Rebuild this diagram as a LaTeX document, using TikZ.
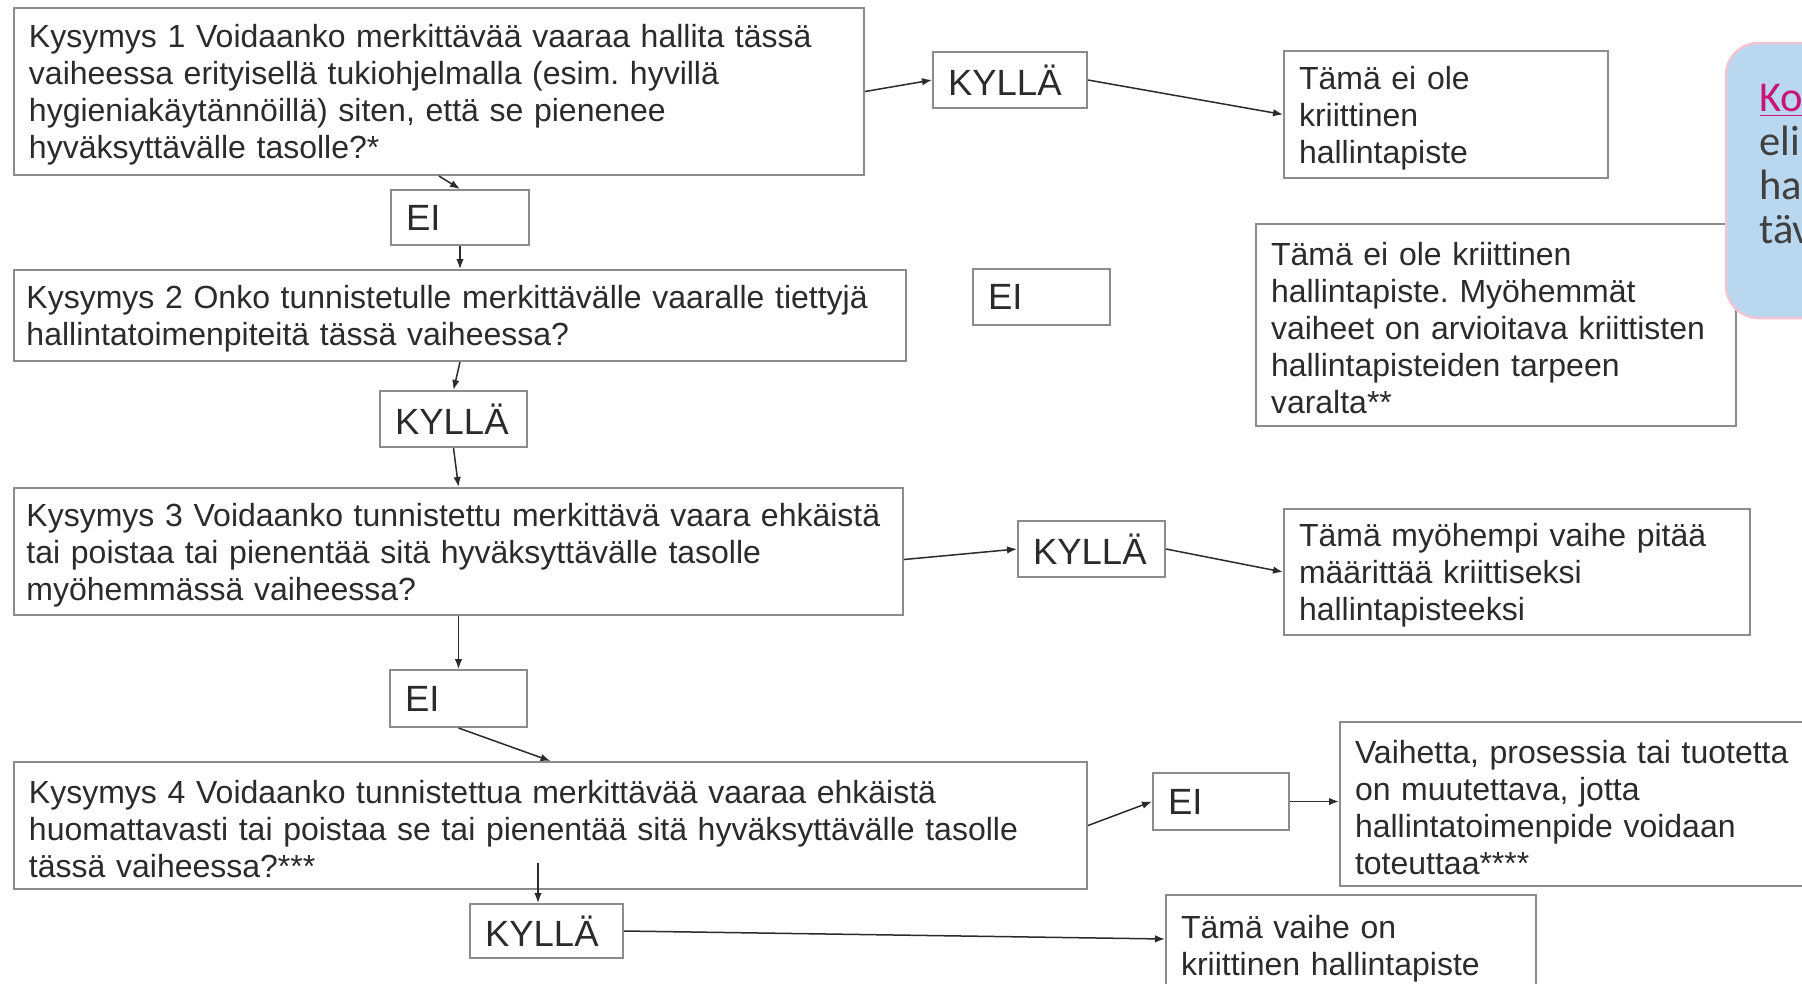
\documentclass[tikz,border=0pt]{standalone}
\usepackage{fontspec}
\setmainfont{Liberation Sans}
\newfontfamily\calloutfont{Carlito}
\usepackage{tikz}
\usetikzlibrary{arrows.meta,positioning,calc}
\definecolor{Frame}{HTML}{8C8C8C}
\definecolor{Ink}{HTML}{2B2B2B}
\definecolor{NoteFill}{HTML}{B9D7EF}
\definecolor{NoteEdge}{HTML}{F0C4D4}
\definecolor{NoteLink}{HTML}{C8147A}
\definecolor{NoteText}{HTML}{404040}
\newcommand{\boxfont}{\fontsize{12.8}{14.8}\selectfont\frenchspacing}
\newcommand{\ansfont}{\fontsize{14.6}{16}\selectfont}

\begin{document}
\begin{tikzpicture}[
  x=0.4pt,y=-0.4pt,
  framed/.style={draw=Frame,line width=0.8pt,fill=white,align=left,inner xsep=6pt,inner ysep=0pt,text=Ink},
  qbox/.style={framed,font=\boxfont,execute at begin node={\rule{0pt}{12pt}}},
  ans/.style={framed,font=\ansfont},
  note/.style={draw=NoteEdge,line width=1pt,fill=NoteFill,rounded corners=13pt},
  notetext/.style={align=left,inner sep=0pt,font=\calloutfont\fontsize{17}{17.5}\selectfont,text=NoteText},
  arrow/.style={-{Latex[length=4pt,width=3pt]},line width=0.6pt,draw=Ink}
]
\useasboundingbox (0,0) rectangle (1802,983);
\clip (0,0) rectangle (1802,983);
\fill[white] (0,0) rectangle (1802,983);

% questions
\node[qbox,text width=328pt,minimum height=66.8pt] (q1) at (439,91.5) {Kysymys 1 Voidaanko merkittävää vaaraa hallita tässä\\vaiheessa erityisellä tukiohjelmalla (esim. hyvillä\\hygieniakäytännöillä) siten, että se pienenee\\hyväksyttävälle tasolle?*};
\node[qbox,text width=346.8pt,inner xsep=5pt,minimum height=36.4pt] (q2) at (460,315.5) {Kysymys 2 Onko tunnistetulle merkittävälle vaaralle tiettyjä\\hallintatoimenpiteitä tässä vaiheessa?};
\node[qbox,text width=345.6pt,inner xsep=5pt,minimum height=50.8pt] (q3) at (458.5,551.5) {Kysymys 3 Voidaanko tunnistettu merkittävä vaara ehkäistä\\tai poistaa tai pienentää sitä hyväksyttävälle tasolle\\myöhemmässä vaiheessa?};
\node[qbox,text width=417.2pt,minimum height=50.8pt] (q4) at (550.5,825.5) {Kysymys 4 Voidaanko tunnistettua merkittävää vaaraa ehkäistä\\huomattavasti tai poistaa se tai pienentää sitä hyväksyttävälle tasolle\\tässä vaiheessa?***};

% answers
\node[ans,text width=49.6pt,minimum height=22.4pt] (k1) at (1010,80) {KYLLÄ};
\node[ans,text width=43.2pt,minimum height=22pt] (e1) at (460,217.5) {EI};
\node[ans,text width=42.8pt,minimum height=22.4pt] (e2) at (1041.5,297) {EI};
\node[ans,text width=46.8pt,minimum height=22.4pt] (k2) at (453.5,419) {KYLLÄ};
\node[ans,text width=46.8pt,minimum height=22.4pt] (k3) at (1091.5,549) {KYLLÄ};
\node[ans,text width=42.8pt,minimum height=22.8pt] (e3) at (458.5,698.5) {EI};
\node[ans,text width=42.4pt,minimum height=22.8pt] (e4) at (1221,801.5) {EI};
\node[ans,text width=49.2pt,minimum height=21.6pt] (k4) at (546.5,931) {KYLLÄ};

% outcomes
\node[qbox,text width=117.6pt,minimum height=50.8pt] (r1) at (1446,114.5) {Tämä ei ole\\kriittinen\\hallintapiste};
\node[qbox,text width=180pt,minimum height=80.8pt] (r2) at (1496,325) {Tämä ei ole kriittinen\\hallintapiste. Myöhemmät\\vaiheet on arvioitava kriittisten\\hallintapisteiden tarpeen\\varalta**};
\node[qbox,text width=174.4pt,minimum height=50.4pt] (r3) at (1517,572) {Tämä myöhempi vaihe pitää\\määrittää kriittiseksi\\hallintapisteeksi};
\node[qbox,text width=188pt,minimum height=65.6pt] (r4) at (1590,804) {Vaihetta, prosessia tai tuotetta\\on muutettava, jotta\\hallintatoimenpide voidaan\\toteuttaa****};
\node[qbox,text width=136pt,minimum height=40pt] (r5) at (1351,945) {Tämä vaihe on\\kriittinen hallintapiste};

% callout at the right edge
\node[note,minimum width=89.6pt,minimum height=110pt] (callout) at (1838,180.5) {};
\node[notetext,anchor=north west] (callouttext) at (1759,84) {{\color{NoteLink}\underline{Ko}}\\eli\\ha\\täv};

% connectors
\draw[arrow] (q1.east) -- (k1.west);
\draw[arrow] (k1.east) -- (r1.west);
\draw[arrow] (q1.south) -- (e1.north);
\draw[arrow] (e1.south) -- (q2.north);
\draw[arrow] (q2.south) -- (k2.north);
\draw[arrow] (k2.south) -- (q3.north);
\draw[arrow] ([yshift=-3.2pt]q3.east) -- (k3.west);
\draw[arrow] (k3.east) -- (r3.west);
\draw[arrow] (q3.south) -- (e3.north);
\draw[arrow] (e3.south) -- (q4.north);
\draw[arrow] (q4.east) -- (e4.west);
\draw[arrow] (e4.east) -- (e4.east -| r4.west);
\draw[arrow] ([xshift=-3.4pt,yshift=10.8pt]q4.south -| k4.north) -- ([xshift=-3.4pt]k4.north);
\draw[arrow] (k4.east) -- ([yshift=2.4pt]r5.west);
\end{tikzpicture}
\end{document}
